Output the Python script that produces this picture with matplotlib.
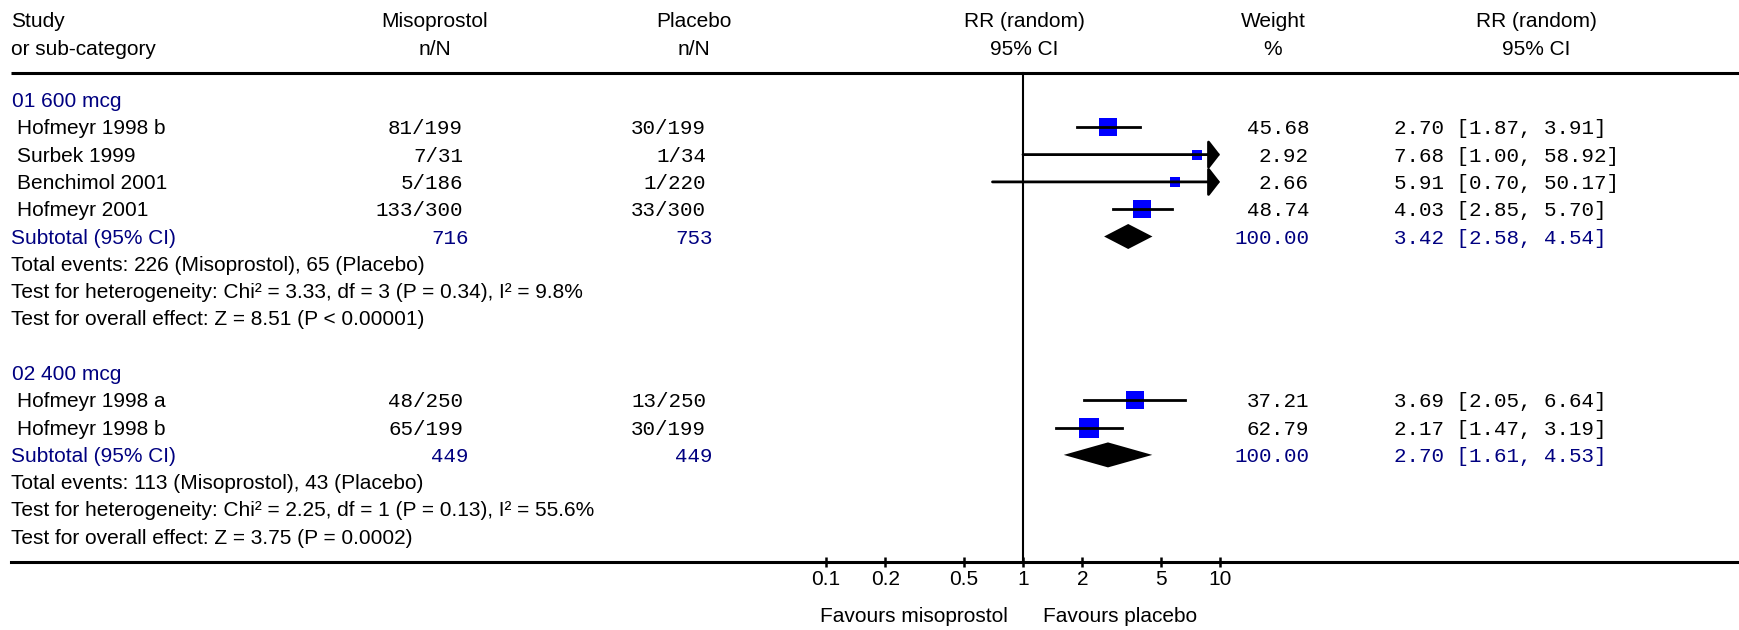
import numpy as np
import matplotlib
matplotlib.use("Agg")
import matplotlib.pyplot as plt

# ---- data ----
studies1 = ["Hofmeyr 1998 b", "Surbek 1999", "Benchimol 2001", "Hofmeyr 2001"]
miso1 = ["81/199", "7/31", "5/186", "133/300"]
plac1 = ["30/199", "1/34", "1/220", "33/300"]
weight1 = [45.68, 2.92, 2.66, 48.74]
rr1 = [2.70, 7.68, 5.91, 4.03]
lo1 = [1.87, 1.00, 0.70, 2.85]
hi1 = [3.91, 58.92, 50.17, 5.70]
sub1 = [3.42, 2.58, 4.54]
tot1 = ["716", "753"]
notes1 = ["Total events: 226 (Misoprostol), 65 (Placebo)",
          "Test for heterogeneity: Chi² = 3.33, df = 3 (P = 0.34), I² = 9.8%",
          "Test for overall effect: Z = 8.51 (P < 0.00001)"]

studies2 = ["Hofmeyr 1998 a", "Hofmeyr 1998 b"]
miso2 = ["48/250", "65/199"]
plac2 = ["13/250", "30/199"]
weight2 = [37.21, 62.79]
rr2 = [3.69, 2.17]
lo2 = [2.05, 1.47]
hi2 = [6.64, 3.19]
sub2 = [2.70, 1.61, 4.53]
tot2 = ["449", "449"]
notes2 = ["Total events: 113 (Misoprostol), 43 (Placebo)",
          "Test for heterogeneity: Chi² = 2.25, df = 1 (P = 0.13), I² = 55.6%",
          "Test for overall effect: Z = 3.75 (P = 0.0002)"]

groups = [("01 600 mcg", studies1, miso1, plac1, weight1, rr1, lo1, hi1, sub1, tot1, notes1),
          ("02 400 mcg", studies2, miso2, plac2, weight2, rr2, lo2, hi2, sub2, tot2, notes2)]

ticks = [0.1, 0.2, 0.5, 1, 2, 5, 10]
tick_labels = ["0.1", "0.2", "0.5", "1", "2", "5", "10"]

# ---- layout (pixels) ----
W, H = 1739, 630
X_ONE, DECADE = 1023, 197
ROW0, STEP = 100, 27.3
AXIS_Y, TOP_Y = 562, 73
SANS, MONO = "Liberation Sans", "Liberation Mono"
NAVY, BLUE = "#000080", "#0000ff"
FS = 15


def px_to_rr(px):
    return 10 ** ((px - X_ONE) / DECADE)


def row_y(k):
    return ROW0 + STEP * k


fig = plt.figure(figsize=(W / 100, H / 100), dpi=100)
tx = fig.add_axes([0, 0, 1, 1])
tx.set_xlim(0, W)
tx.set_ylim(H, 0)
tx.axis("off")

ax = fig.add_axes([0, 0, 1, 1])
ax.set_xscale("log")
ax.set_xlim(px_to_rr(0), px_to_rr(W))
ax.set_ylim(H, 0)
ax.axis("off")
ax.patch.set_alpha(0)


def put(x, y, s, ha="left", mono=False, color="black"):
    tx.text(x, y + 7, s, ha=ha, va="baseline", fontsize=FS,
            family=MONO if mono else SANS, color=color)


# headers
put(11, 20, "Study")
put(11, 48, "or sub-category")
for cx, a, b in [(435, "Misoprostol", "n/N"), (694, "Placebo", "n/N"),
                 (1024, "RR (random)", "95% CI"), (1273, "Weight", "%"),
                 (1536, "RR (random)", "95% CI")]:
    put(cx, 20, a, ha="center")
    put(cx, 48, b, ha="center")

tx.plot([11, W], [TOP_Y, TOP_Y], color="black", lw=2.2, solid_capstyle="butt")
ax.plot([1, 1], [TOP_Y, AXIS_Y], color="black", lw=1.5)

k = 0
for (title, studies, miso, plac, weight, rr, lo, hi, sub, tot, notes) in groups:
    put(12, row_y(k), title, color=NAVY)
    k += 1
    for i in range(len(studies)):
        y = row_y(k)
        put(17, y, studies[i])
        put(463, y, miso[i], ha="right", mono=True)
        put(706, y, plac[i], ha="right", mono=True)
        put(1309, y, "%.2f" % weight[i], ha="right", mono=True)
        put(1394, y, "%.2f [%.2f, %.2f]" % (rr[i], lo[i], hi[i]), mono=True)
        side = 8.5 + 1.45 * np.sqrt(weight[i])
        ax.plot(rr[i], y, marker="s", ms=side * 0.72, mew=0, color=BLUE, zorder=3)
        left = max(lo[i], ticks[0])
        if hi[i] > ticks[-1]:
            ax.annotate("", xy=(ticks[-1], y), xytext=(left, y),
                        arrowprops=dict(arrowstyle="-|>,head_length=0.35,head_width=0.45",
                                        mutation_scale=20, lw=2, color="black",
                                        shrinkA=0, shrinkB=0), zorder=4)
        else:
            ax.plot([left, hi[i]], [y, y], color="black", lw=2, zorder=4)
        k += 1
    y = row_y(k)
    put(11, y, "Subtotal (95% CI)", color=NAVY)
    put(469, y, tot[0], ha="right", mono=True, color=NAVY)
    put(713, y, tot[1], ha="right", mono=True, color=NAVY)
    put(1309, y, "100.00", ha="right", mono=True, color=NAVY)
    put(1394, y, "%.2f [%.2f, %.2f]" % tuple(sub), mono=True, color=NAVY)
    ax.fill([sub[1], sub[0], sub[2], sub[0]], [y, y - 12.5, y, y + 12.5],
            color="black", lw=0, zorder=3)
    k += 1
    for n in notes:
        put(11, row_y(k), n)
        k += 1
    k += 1

# bottom axis
bx = fig.add_axes([11 / W, (H - AXIS_Y) / H, (W - 11) / W, 0.01])
bx.set_xscale("log")
bx.set_xlim(px_to_rr(11), px_to_rr(W))
bx.patch.set_alpha(0)
for s in ["top", "left", "right"]:
    bx.spines[s].set_visible(False)
bx.spines["bottom"].set_linewidth(2.2)
bx.set_yticks([])
bx.set_xticks(ticks)
bx.set_xticklabels(tick_labels, family=SANS, fontsize=FS)
bx.xaxis.set_minor_locator(matplotlib.ticker.NullLocator())
bx.tick_params(axis="x", direction="inout", length=7, width=1.8, pad=2)

tx.text(1008, 617, "Favours misoprostol", ha="right", va="center",
        fontsize=FS, family=SANS)
tx.text(1043, 617, "Favours placebo", ha="left", va="center",
        fontsize=FS, family=SANS)

fig.savefig("out.png", dpi=100)
